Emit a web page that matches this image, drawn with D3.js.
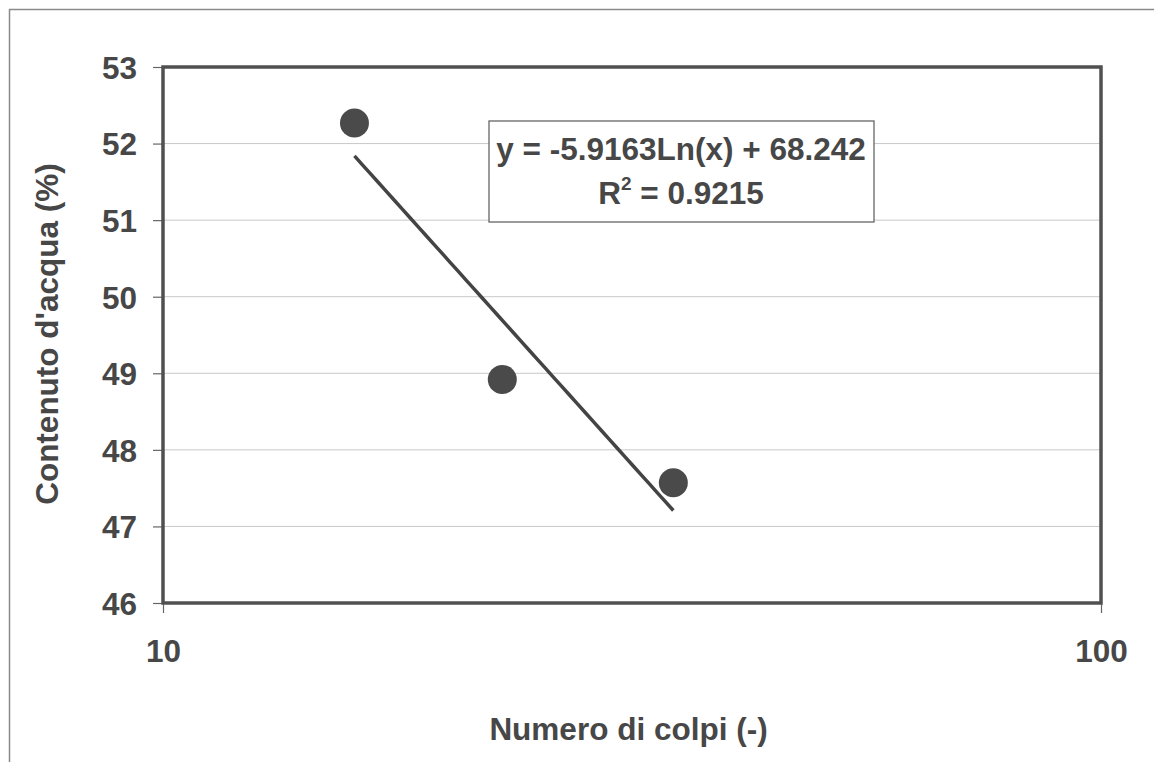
<!DOCTYPE html>
<html><head><meta charset="utf-8">
<script src="https://cdn.jsdelivr.net/npm/d3@7"></script>
<style>
html,body{margin:0;padding:0;background:#fff;}
svg text{font-family:"Liberation Sans",Arial,sans-serif;font-weight:bold;fill:#474747;}
</style></head>
<body>
<svg id="c" width="1154" height="762"></svg>
<script>
// Data
const colpi = [16, 23, 35];
const acqua = [52.27, 48.92, 47.57];
const yTicks = [46, 47, 48, 49, 50, 51, 52, 53];
const xTicks = [10, 100];
const trendCoef = [-5.9163, 68.242];
const trendRange = [16, 35];
const eqLabels = ["y = -5.9163Ln(x) + 68.242", "R", "2", " = 0.9215"];
const xTitle = "Numero di colpi (-)";
const yTitle = "Contenuto d'acqua (%)";

const FS = 31.5;
const svg = d3.select("#c");
const L = 163, R = 1101, T = 67, B = 603;
const x = d3.scaleLog().domain([10, 100]).range([L, R]);
const y = d3.scaleLinear().domain([46, 53]).range([B, T]);

// outer frame (top + left)
svg.append("line").attr("x1", 9).attr("x2", 1154).attr("y1", 9.5).attr("y2", 9.5).attr("stroke", "#8a8a8a").attr("stroke-width", 1.5);
svg.append("line").attr("x1", 9.5).attr("x2", 9.5).attr("y1", 9).attr("y2", 762).attr("stroke", "#8a8a8a").attr("stroke-width", 1.5);

// gridlines
svg.append("g").selectAll("line").data(yTicks.filter(d => d > 46 && d < 53)).join("line")
  .attr("x1", L).attr("x2", R).attr("y1", d => y(d)).attr("y2", d => y(d))
  .attr("stroke", "#c8c8c8").attr("stroke-width", 1);

// y axis
const yAxis = svg.append("g").attr("transform", `translate(${L},0)`)
  .call(d3.axisLeft(y).tickValues(yTicks).tickSize(10).tickPadding(16).tickFormat(d3.format("d")));
yAxis.select(".domain").remove();
yAxis.selectAll(".tick line").attr("stroke", "#666").attr("stroke-width", 1.2);
yAxis.selectAll(".tick text").attr("font-size", FS).attr("fill", "#474747").attr("dy", "0.36em")
  .style("font-family", '"Liberation Sans",Arial,sans-serif').style("font-weight", "bold");

// x axis
const xAxis = svg.append("g").attr("transform", `translate(0,${B})`)
  .call(d3.axisBottom(x).tickValues(xTicks).tickSize(10).tickPadding(27).tickFormat(d3.format("d")));
xAxis.select(".domain").remove();
xAxis.selectAll(".tick line").attr("stroke", "#666").attr("stroke-width", 1.2);
xAxis.selectAll(".tick text").attr("font-size", FS).attr("fill", "#474747")
  .style("font-family", '"Liberation Sans",Arial,sans-serif').style("font-weight", "bold");

// plot frame
svg.append("rect").attr("x", L).attr("y", T).attr("width", R - L).attr("height", B - T)
  .attr("fill", "none").attr("stroke", "#505050").attr("stroke-width", 3.5);

// trendline
const tr = d3.range(0, 41).map(i => {
  const xv = trendRange[0] * Math.pow(trendRange[1] / trendRange[0], i / 40);
  return [xv, trendCoef[0] * Math.log(xv) + trendCoef[1]];
});
svg.append("path").datum(tr)
  .attr("d", d3.line().x(d => x(d[0])).y(d => y(d[1])))
  .attr("fill", "none").attr("stroke", "#444").attr("stroke-width", 3.5);

// points
svg.append("g").selectAll("circle").data(colpi.map((c, i) => [c, acqua[i]])).join("circle")
  .attr("cx", d => x(d[0])).attr("cy", d => y(d[1])).attr("r", 14.5)
  .attr("fill", "#4a4a4a");

// equation box
svg.append("rect").attr("x", 489).attr("y", 121).attr("width", 385).attr("height", 101)
  .attr("fill", "#fff").attr("stroke", "#666").attr("stroke-width", 1.3);
svg.append("text").attr("x", 681).attr("y", 160).attr("text-anchor", "middle").attr("font-size", FS)
  .text(eqLabels[0]);
const t2 = svg.append("text").attr("x", 681).attr("y", 204).attr("text-anchor", "middle").attr("font-size", FS);
t2.append("tspan").text(eqLabels[1]);
t2.append("tspan").attr("dy", -14).attr("font-size", 19).text(eqLabels[2]);
t2.append("tspan").attr("dy", 14).text(eqLabels[3]);

// axis titles
svg.append("text").attr("x", 628.5).attr("y", 740).attr("text-anchor", "middle").attr("font-size", FS).text(xTitle);
svg.append("text").attr("transform", "translate(58,334) rotate(-90)").attr("text-anchor", "middle").attr("font-size", FS).text(yTitle);
</script>
</body></html>
